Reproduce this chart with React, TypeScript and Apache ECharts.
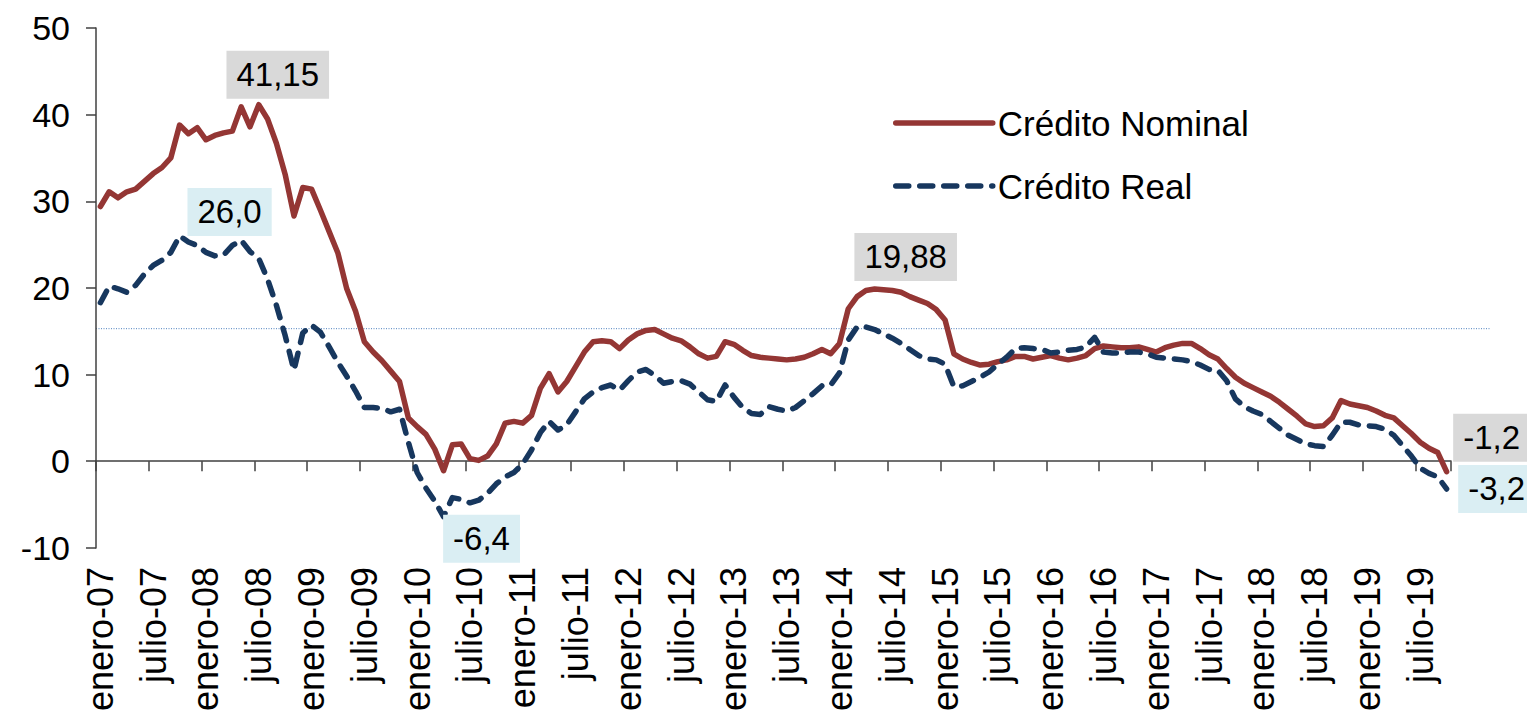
import React, { useEffect, useRef } from "react";
import * as echarts from "echarts";

// ---------- data ----------
const MONTHS = [
  "enero", "febrero", "marzo", "abril", "mayo", "junio",
  "julio", "agosto", "septiembre", "octubre", "noviembre", "diciembre",
];
const START_YEAR = 2007;
const MONTH_COUNT = 154; // enero-07 .. octubre-19

const CATEGORIES: string[] = Array.from({ length: MONTH_COUNT }, (_, i) => {
  const yy = String((START_YEAR + Math.floor(i / 12)) % 100).padStart(2, "0");
  return `${MONTHS[i % 12]}-${yy}`;
});

// Crédito Nominal (% anual)
const NOMINAL = [
  29.4, 31.1, 30.4, 31.1, 31.4, 32.3, 33.2, 33.9, 35.0, 38.8, 37.8, 38.5, // 2007
  37.1, 37.6, 37.9, 38.1, 40.9, 38.6, 41.15, 39.5, 36.7, 33.1, 28.3, 31.6, // 2008
  31.4, 29.0, 26.5, 24.0, 19.9, 17.3, 13.8, 12.6, 11.6, 10.4, 9.2, 5.0, // 2009
  4.0, 3.1, 1.4, -1.1, 1.9, 2.0, 0.3, 0.1, 0.6, 2.0, 4.4, 4.6, // 2010
  4.4, 5.3, 8.4, 10.1, 8.0, 9.2, 10.9, 12.6, 13.8, 13.9, 13.8, 13.0, // 2011
  14.0, 14.7, 15.1, 15.2, 14.7, 14.2, 13.9, 13.2, 12.4, 11.9, 12.1, 13.8, // 2012
  13.5, 12.8, 12.2, 12.0, 11.9, 11.8, 11.7, 11.8, 12.0, 12.4, 12.9, 12.4, // 2013
  13.6, 17.6, 19.0, 19.7, 19.88, 19.8, 19.7, 19.5, 19.0, 18.6, 18.2, 17.5, // 2014
  16.3, 12.4, 11.8, 11.4, 11.1, 11.2, 11.5, 11.7, 12.1, 12.1, 11.8, 12.0, // 2015
  12.2, 11.9, 11.7, 11.9, 12.2, 13.0, 13.3, 13.2, 13.1, 13.1, 13.2, 12.9, // 2016
  12.6, 13.1, 13.4, 13.6, 13.6, 13.0, 12.3, 11.8, 10.7, 9.7, 9.0, 8.5, // 2017
  8.0, 7.5, 6.8, 6.0, 5.2, 4.3, 4.0, 4.1, 5.0, 7.0, 6.6, 6.4, // 2018
  6.2, 5.8, 5.3, 5.0, 4.1, 3.2, 2.2, 1.5, 1.0, -1.2, // 2019
];

// Crédito Real (% anual)
const REAL = [
  18.3, 20.2, 19.9, 19.5, 20.3, 21.6, 22.6, 23.2, 24.1, 26.0, 25.3, 24.9, // 2007
  24.1, 23.7, 23.8, 24.9, 25.5, 24.2, 23.4, 21.0, 18.0, 14.5, 10.5, 14.8, // 2008
  15.7, 14.9, 13.2, 11.4, 9.8, 8.1, 6.2, 6.2, 6.1, 5.7, 6.0, 2.2, // 2009
  -1.3, -3.1, -4.6, -6.4, -4.2, -4.4, -4.8, -4.5, -3.7, -2.6, -1.8, -1.3, // 2010
  -0.3, 1.3, 3.3, 4.6, 3.6, 4.2, 5.7, 7.2, 8.0, 8.5, 8.8, 8.2, // 2011
  9.3, 10.3, 10.6, 9.9, 9.0, 9.2, 9.3, 8.9, 8.0, 7.1, 6.9, 8.8, // 2012
  7.4, 6.2, 5.5, 5.4, 6.3, 6.0, 5.8, 6.2, 7.0, 7.8, 8.7, 8.8, // 2013
  10.2, 14.0, 15.5, 15.5, 15.2, 14.7, 14.2, 13.6, 12.9, 12.2, 11.8, 11.7, // 2014
  11.2, 8.6, 8.7, 9.2, 9.7, 10.3, 11.2, 12.0, 13.0, 13.1, 13.0, 12.9, // 2015
  12.5, 12.6, 12.8, 12.9, 13.2, 14.3, 12.6, 12.5, 12.5, 12.6, 12.6, 12.4, // 2016
  12.0, 11.9, 11.8, 11.7, 11.5, 11.1, 10.6, 10.5, 9.3, 7.2, 6.3, 5.8, // 2017
  5.4, 4.6, 3.8, 3.0, 2.5, 2.0, 1.8, 1.7, 3.0, 4.5, 4.5, 4.2, // 2018
  4.1, 4.0, 3.7, 3.0, 1.8, 0.6, -0.8, -1.4, -1.8, -3.2, // 2019
];

const REFERENCE_LEVEL = 15.3;

const Y_MIN = -10;
const Y_MAX = 50;
const Y_INTERVAL = 10;

// annotated points: series key, data index, decimals shown
const ANNOTATIONS = [
  { series: "nominal", index: 18, decimals: 2 },
  { series: "real", index: 9, decimals: 1 },
  { series: "nominal", index: 88, decimals: 2 },
  { series: "real", index: 39, decimals: 1 },
  { series: "nominal", index: 153, decimals: 1 },
  { series: "real", index: 153, decimals: 1 },
];

// ---------- styles ----------
const FONT = "'Liberation Sans', Arial, sans-serif";
const RED = "#943634";
const NAVY = "#17375E";
const AXIS = "#404040";
const GRID = { left: 96, top: 28, width: 1355, height: 522 };
const LABEL_OFFSETS: Record<string, [number, number]> = {
  "nominal-18": [19, -30],
  "real-9": [50, -24],
  "nominal-88": [31, -32],
  "real-39": [38, 22],
  "nominal-153": [45, -34],
  "real-153": [50, 0],
};
const LABEL_BG: Record<string, string> = { nominal: "#D9D9D9", real: "#DAEEF3" };

const fmt = (v: number, d: number) => v.toFixed(d).replace(".", ",");

function buildData(values: number[], key: string) {
  return values.map((v, i) => {
    const ann = ANNOTATIONS.find((a) => a.series === key && a.index === i);
    if (!ann) return v;
    return {
      value: v,
      label: {
        show: true,
        position: "inside",
        align: "center",
        verticalAlign: "middle",
        offset: LABEL_OFFSETS[`${key}-${i}`],
        formatter: () => fmt(v, ann.decimals),
        backgroundColor: LABEL_BG[key],
        padding: [6, 10],
        fontSize: 33,
        lineHeight: 36,
        color: "#000",
        fontFamily: FONT,
      },
    };
  });
}

export default function App() {
  const ref = useRef<HTMLDivElement>(null);

  useEffect(() => {
    if (!ref.current) return;
    const chart = echarts.init(ref.current, null, { renderer: "svg" });
    const option: any = {
      animation: false,
      backgroundColor: "#ffffff",
      textStyle: { fontFamily: FONT },
      grid: { ...GRID, containLabel: false },
      legend: {
        orient: "vertical",
        left: 893,
        top: 103,
        padding: 0,
        itemWidth: 97,
        itemHeight: 14,
        itemGap: 23,
        selectedMode: false,
        itemStyle: { opacity: 0 },
        lineStyle: { width: 5.5 },
        textStyle: { fontSize: 35, lineHeight: 40, color: "#000", fontFamily: FONT },
        data: ["Crédito Nominal", "Crédito Real"],
      },
      xAxis: [
        {
          type: "category",
          data: CATEGORIES,
          boundaryGap: true,
          position: "bottom",
          axisLine: { show: true, onZero: true, lineStyle: { color: AXIS, width: 1.5 } },
          axisTick: { show: true, interval: 5, length: 10, alignWithLabel: false, lineStyle: { color: AXIS, width: 1.5 } },
          axisLabel: { show: false },
          splitLine: { show: false },
        },
        {
          type: "category",
          data: CATEGORIES,
          boundaryGap: true,
          position: "bottom",
          axisLine: { show: false, onZero: false },
          axisTick: { show: false },
          axisLabel: {
            show: true,
            interval: 5,
            rotate: 90,
            margin: 19,
            fontSize: 36,
            color: "#000",
            fontFamily: FONT,
          },
          splitLine: { show: false },
        },
      ],
      yAxis: {
        type: "value",
        min: Y_MIN,
        max: Y_MAX,
        interval: Y_INTERVAL,
        axisLine: { show: true, lineStyle: { color: AXIS, width: 1.5 } },
        axisTick: { show: true, length: 10, lineStyle: { color: AXIS, width: 1.5 } },
        axisLabel: { fontSize: 34, margin: 26, color: "#000", fontFamily: FONT },
        splitLine: { show: false },
      },
      series: [
        {
          name: "Crédito Nominal",
          type: "line",
          xAxisIndex: 0,
          yAxisIndex: 0,
          data: buildData(NOMINAL, "nominal"),
          symbol: "circle",
          symbolSize: 0,
          showSymbol: true,
          showAllSymbol: true,
          itemStyle: { color: RED },
          lineStyle: { color: RED, width: 5.5, join: "round", cap: "round" },
          emphasis: { disabled: true },
        },
        {
          name: "Crédito Real",
          type: "line",
          xAxisIndex: 0,
          yAxisIndex: 0,
          data: buildData(REAL, "real"),
          symbol: "circle",
          symbolSize: 0,
          showSymbol: true,
          showAllSymbol: true,
          itemStyle: { color: NAVY },
          lineStyle: { color: NAVY, width: 5.5, type: [13, 11], join: "round", cap: "round" },
          emphasis: { disabled: true },
        },
      ],
    };
    chart.setOption(option);

    const yRef = chart.convertToPixel({ yAxisIndex: 0 }, REFERENCE_LEVEL) as number;
    chart.setOption({
      graphic: [
        {
          type: "line",
          silent: true,
          z: 0,
          shape: { x1: GRID.left, y1: yRef, x2: 1490, y2: yRef },
          style: { stroke: "#4F81BD", lineWidth: 1, lineDash: [1, 1.5] },
        },
      ],
    });

    return () => chart.dispose();
  }, []);

  return (
    <div
      ref={ref}
      style={{ position: "fixed", left: 0, top: 0, width: 1527, height: 714, background: "#fff" }}
    />
  );
}
